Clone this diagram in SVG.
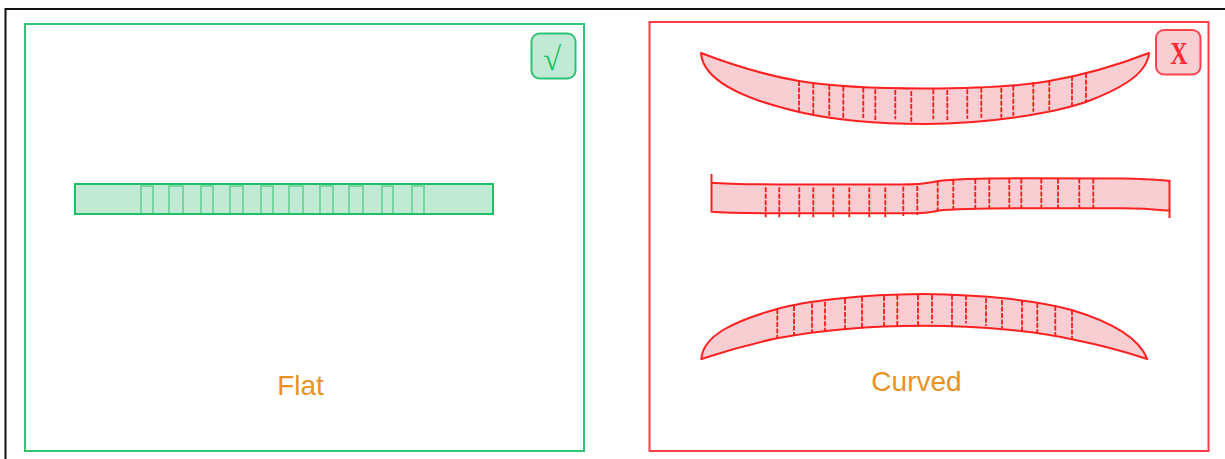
<svg xmlns="http://www.w3.org/2000/svg" width="1225" height="459" viewBox="0 0 1225 459">
<style>
.lbl{font-family:"Liberation Sans",Arial,sans-serif;font-size:28px;fill:#e8921f}
.gbox{fill:none;stroke:#2fc474;stroke-width:2}
.rbox{fill:none;stroke:#ff3d48;stroke-width:2}
.g{fill:#c1ead4;stroke:#1fbf68;stroke-width:2}
.gt{fill:none;stroke:#1fbf68;stroke-width:2;stroke-opacity:.45}
.r{fill:#f8ced3;stroke:#ff2020;stroke-width:2;stroke-linejoin:round}
.rb{fill:none;stroke:#ff2020;stroke-width:2}
.t{stroke:#ff1a1a;stroke-width:1.8;stroke-dasharray:5 1.5;fill:none}
.bg{fill:#c1ead4;stroke:#2fc474;stroke-width:2}
.br{fill:#f8ced3;stroke:#ff4450;stroke-width:2}
</style>
<rect width="1225" height="459" fill="#fff"/>
<path d="M5.500 459V9H1225" fill="none" stroke="#111" stroke-width="2"/>

<g id="flat-panel">
<rect class="gbox" x="25" y="24" width="559" height="427"/>
<rect class="g" x="75" y="184" width="418" height="30"/>
<path class="gt" d="M141 214V186H153V214M169 214V186H183V214M201 214V186H213V214M230 214V186H243V214M261 214V186H273V214M289 214V186H303V214M320 214V186H333V214M349 214V186H363V214M382 214V186H393V214M412 214V186H424V214"/>
<text class="lbl" x="300.500" y="395" text-anchor="middle">Flat</text>
<g id="check-badge">
<rect class="bg" x="531.500" y="33.500" width="44" height="45" rx="8"/>
<text x="552" y="70" text-anchor="middle" font-family="'Liberation Serif',serif" font-size="33" fill="#1fbf68">√</text>
</g>
</g>

<g id="curved-panel">
<rect class="rbox" x="649.500" y="22" width="559" height="429"/>
<g id="cross-badge">
<rect class="br" x="1156" y="30" width="44.500" height="44.500" rx="8"/>
<text transform="translate(1179 63.500) scale(.78 1)" text-anchor="middle" font-family="'Liberation Serif',serif" font-size="31" font-weight="bold" fill="#ff2a35">X</text>
</g>
<g id="concave-shape">
<path class="r" d="M701 53C735 66 770 76 799 81C835 87 880 88.500 925 88.500C970 88.500 1015 87 1049 81C1085 75 1118 65 1149 53C1147 76 1115 91 1086 102C1050 114 985 124 925 124C870 124 825 118 799 112C760 103 703 85 701 53Z"/>
<path class="t" d="M799 81V112M813.300 83.300V114.300M829.300 85V116M843.300 86.700V117.700M863.300 87.700V118M875.300 89.300V120M895.300 90V119.300M911.300 91V121.700M933.300 89.300V119.300M947.300 90V120M967.300 89.300V118.700M981.300 87.700V117.700M1001.300 87.700V117.700M1013.300 85.700V115.700M1033.300 82.300V111.700M1049.300 80.700V110M1072 76V106M1086 73.300V102.700"/>
</g>
<g id="wavy-shape">
<path class="r" d="M711.500 182.700C730 184.500 760 184.500 800 184.500L900 184.500C925 184.500 930 182.500 937 181.300C950 179.500 975 178.300 1023 178.300L1123 178.500C1150 179 1160 180 1169.500 180.700V210.700C1160 210 1150 208.500 1123 208.300H1023C980 208.300 955 208.500 938 210.700C930 212.500 925 213.300 900 213.300H800C760 213.300 730 213.300 711.500 211.700Z"/>
<path class="rb" d="M711.500 174V183M1169.500 210V218"/>
<path class="t" d="M765.700 187.300V217.300M779.300 187.300V217.300M799.300 187.300V217.300M813.300 187.300V217.300M833.300 187.300V217.300M849.300 187.300V217.300M869.300 187.300V217.300M885.300 187.300V217.300M903.300 186.500V216M917.300 186V215M937.700 181.300V210.500M953.300 180V209M975.300 179V208.500M989.300 179V208.500M1009.300 178.500V208M1021.300 178.500V208M1041.300 178.500V208.500M1058 178.500V208.500M1079.300 178.500V208.500M1093.300 178.500V208.500"/>
</g>
<g id="convex-shape">
<path class="r" d="M701.300 359C703 335 735 321 777 309C805 301 860 294.500 923 294C985 294.500 1040 301 1071.700 310C1105 320 1138 335 1147.300 359C1120 350 1095 344 1071.700 339.300C1040 332 985 325.700 923 325.700C860 325.700 815 331 777 338.300C750 344 725 351 701.300 359Z"/>
<path class="t" d="M777.300 309V338.300M794 306V335.700M812 303.300V332.700M825 301.700V331.700M845 299V329.300M862 296.700V327.700M884 296V326.700M897.300 295V326M918 295V325.700M932 295V323.300M952 295V326M966 295V323.300M986 298.300V326M1002 300V328.300M1022 300.700V330.700M1037.300 303.300V332.700M1055.300 306V336M1072 310V338.700"/>
<text class="lbl" x="916.500" y="391" text-anchor="middle">Curved</text>
</g>
</g>
</svg>
